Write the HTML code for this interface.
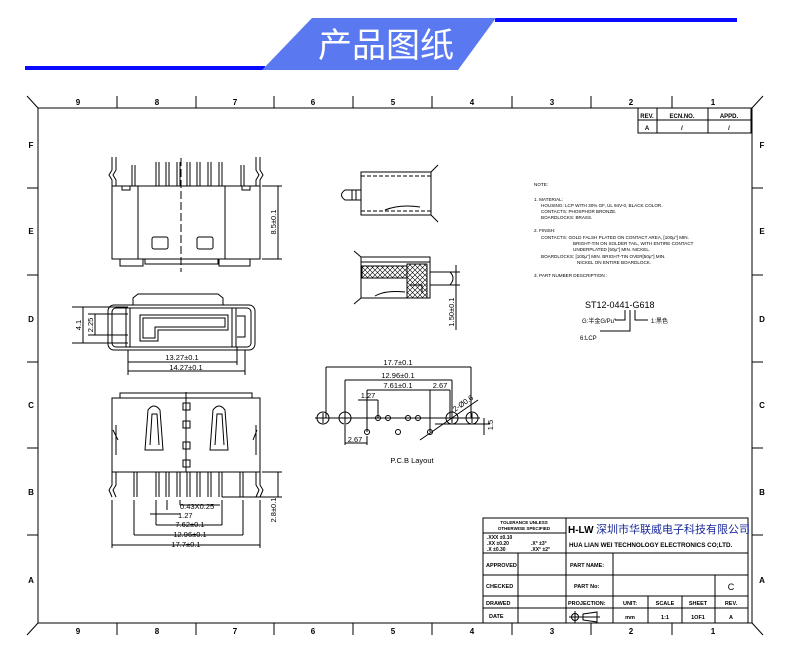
<!DOCTYPE html>
<html><head><meta charset="utf-8"><style>
html,body{margin:0;padding:0;background:#fff;width:790px;height:663px;overflow:hidden}
svg{display:block}
text{font-family:"Liberation Sans","Noto Sans CJK SC",sans-serif;fill:#000}
</style></head><body>
<svg width="790" height="663" viewBox="0 0 790 663" xmlns="http://www.w3.org/2000/svg">
<!-- header -->
<rect x="495" y="18" width="242" height="4" fill="#0a0aff"/>
<rect x="25" y="66" width="240" height="4" fill="#0a0aff"/>
<polygon points="262,70 312,18 496,18 458,70" fill="#5a78f0"/>
<text x="386" y="57" font-size="34" text-anchor="middle" style="fill:#fff" font-family="Noto Sans CJK SC,sans-serif">产品图纸</text>

<g stroke="#000" fill="none" stroke-width="1">
<!-- frame -->
<line x1="27" y1="96" x2="38" y2="108"/><line x1="763" y1="96" x2="752" y2="108"/>
<line x1="38" y1="108" x2="752" y2="108"/>
<line x1="38" y1="108" x2="38" y2="623"/><line x1="752" y1="108" x2="752" y2="623"/>
<line x1="38" y1="623" x2="752" y2="623"/>
<line x1="27" y1="635" x2="38" y2="623"/><line x1="763" y1="635" x2="752" y2="623"/>
<path d="M117 96V108M196 96V108M274 96V108M353 96V108M432 96V108M512 96V108M591 96V108M672 96V108"/>
<path d="M117 623V635M196 623V635M274 623V635M353 623V635M432 623V635M512 623V635M591 623V635M672 623V635"/>
<path d="M27 188H38M27 275H38M27 362H38M27 448H38M27 535H38M752 188H763M752 275H763M752 362H763M752 448H763M752 535H763"/>
<!-- rev table -->
<rect x="638" y="108" width="113" height="25"/>
<path d="M638 120H751M657 108V133M708 108V133"/>
<!-- title block -->
<rect x="483" y="518" width="265" height="105"/>
<path d="M483 553H748M483 575H748M483 596H748M483 608H748M566 518V623M518 553V623M613 553V623M648 596V623M682 596V623M715 575V623M483 533H566"/>

<!-- top view -->
<rect x="112" y="186" width="148" height="73"/>
<path d="M138 186V259M225 186V259"/>
<path d="M120 259V266H143V259M145 259V264H218V259M219 259V266H250V259"/>
<path d="M156 162V186M159 162V186M166 162V186M169 162V186M177 162V186M180 162V186M187 162V186M190 162V186M197 162V186M200 162V186M208 162V186M211 162V186M219 162V186M222 162V186"/>
<path d="M132 165V186M135 165V186M241 165V186M244 165V186"/>
<path d="M112 157V170L109 175L112 180V186M116 157V170L113 175L116 180V186M260 157V170L263 175L260 180V186M256 157V170L259 175L256 180V186"/>
<path d="M122 186V190H130V186M242 186V190H250V186"/>
<rect x="152" y="237" width="16" height="12" rx="2"/><rect x="197" y="237" width="16" height="12" rx="2"/>
<path d="M181 158V272" stroke-dasharray="8,3"/>
<path d="M262 186H282M262 259H282M278 186V259"/>
<!-- front view -->
<rect x="108" y="305" width="147" height="45" rx="6"/>
<rect x="112" y="308" width="139" height="39" rx="4"/>
<path d="M133 305V298L138 294H218L223 298V305"/>
<path d="M126 308V347M130 308V347M232 308V347M236 308V347"/>
<path d="M140 315H228V330H158V341H140Z"/>
<path d="M143 318H225V327H155V338H143Z"/>
<path d="M237 316H245V337H237"/>
<path d="M72 307H128M72 343H128M83 307V343M88 314H128M88 335H128M95 314V335"/>
<path d="M128 350V375M237 347V365M245 350V375M128 362H237M128 371H245"/>
<!-- bottom view -->
<path d="M120 398V393H252V398"/>
<rect x="112" y="398" width="148" height="74"/>
<path d="M145 450L148 410Q154 402 160 410L163 450ZM150 445L152 414H157L159 445"/>
<path d="M210 450L213 410Q219 402 225 410L228 450ZM215 445L217 414H222L224 445"/>
<path d="M186 392V472"/>
<rect x="183" y="403" width="7" height="7"/><rect x="183" y="421" width="7" height="7"/><rect x="183" y="442" width="7" height="7"/><rect x="183" y="460" width="7" height="7"/>
<path d="M134 472V497M137 472V497M156 472V497M159 472V497M166 472V497M169 472V497M177 472V497M180 472V497M187 472V497M190 472V497M197 472V497M200 472V497M208 472V497M211 472V497M219 472V497M222 472V497M240 472V497M243 472V497"/>
<path d="M112 472V485L109 490L112 497M116 472V485L113 490L116 497M260 472V485L263 490L260 497M256 472V485L259 490L256 497"/>
<path d="M113 430L118 440M116 425V455M256 425V455M257 430L253 440"/>
<path d="M112 500V548M260 500V548M134 500V535M243 500V535M156 500V525M222 500V525M167 500V510M180 500V505"/>
<path d="M180 505H220M150 514H180M156 525H222M134 535H243M112 545H260"/>
<path d="M262 472H282M222 497H282M278 472V497"/>
<!-- side view 1 -->
<rect x="361" y="172" width="70" height="43"/>
<path d="M361 176H431M361 211H431" stroke-dasharray="4,2"/>
<path d="M431 172L438 165M431 215L438 222"/>
<path d="M361 190H345Q338 195 345 200H361M352 190V200M356 190V200"/>
<path d="M385 210Q400 204 420 207"/>
<!-- side view 2 -->
<rect x="361" y="257" width="69" height="41"/>
<path d="M361 262H430M354 251L361 257M354 304L361 298"/>
<rect x="362" y="266" width="45" height="12" fill="url(#h)"/>
<rect x="407" y="264" width="20" height="34" fill="url(#h)"/>
<path d="M430 272H450Q456 278 450 285H430"/>
<path d="M375 296Q385 290 405 292M410 285H422V293"/>
<path d="M432 272H460M432 285H460M456 265V330"/>
<!-- PCB -->
<path d="M326 367V418M471 367V418M345 380V418M452 380V418M367 390V432M430 390V432M450 390V418M358 400H378M378 400V418"/>
<path d="M326 367H471M345 380H452M367 390H430M430 390H450M358 400H378"/>
<path d="M315 418H480"/>
<circle cx="323" cy="418" r="6"/><circle cx="345" cy="418" r="6"/><circle cx="452" cy="418" r="6"/><circle cx="472" cy="418" r="6"/>
<circle cx="378" cy="418" r="2.5"/><circle cx="388" cy="418" r="2.5"/><circle cx="408" cy="418" r="2.5"/><circle cx="418" cy="418" r="2.5"/>
<circle cx="367" cy="432" r="2.5"/><circle cx="398" cy="432" r="2.5"/><circle cx="430" cy="432" r="2.5"/>
<path d="M420 440L478 400M345 425V445M367 436V445M345 443H367M435 424H490M484 418V435"/>
<path d="M318 418H328M323 413V423M340 418H350M345 413V423M447 418H457M452 413V423M467 418H477M472 413V423"/>
<!-- part number lines -->
<path d="M625 310V320H615M630 310V331H600M635 310V320H648"/>
</g>
<defs><pattern id="h" width="5" height="5" patternUnits="userSpaceOnUse"><path d="M0 0L5 5M5 0L0 5" stroke="#000" stroke-width="0.6"/></pattern></defs>

<!-- ruler labels -->
<g font-size="8" font-weight="bold" text-anchor="middle">
<text x="78" y="105">9</text><text x="157" y="105">8</text><text x="235" y="105">7</text><text x="313" y="105">6</text><text x="393" y="105">5</text><text x="472" y="105">4</text><text x="552" y="105">3</text><text x="631" y="105">2</text><text x="713" y="105">1</text>
<text x="78" y="634">9</text><text x="157" y="634">8</text><text x="235" y="634">7</text><text x="313" y="634">6</text><text x="393" y="634">5</text><text x="472" y="634">4</text><text x="552" y="634">3</text><text x="631" y="634">2</text><text x="713" y="634">1</text>
<text x="31" y="148">F</text><text x="31" y="234">E</text><text x="31" y="322">D</text><text x="31" y="408">C</text><text x="31" y="495">B</text><text x="31" y="583">A</text>
<text x="762" y="148">F</text><text x="762" y="234">E</text><text x="762" y="322">D</text><text x="762" y="408">C</text><text x="762" y="495">B</text><text x="762" y="583">A</text>
</g>
<g font-size="6" font-weight="bold" text-anchor="middle">
<text x="647" y="118">REV.</text><text x="682" y="118">ECN.NO.</text><text x="729" y="118">APPD.</text>
<text x="647" y="130">A</text><text x="682" y="130">/</text><text x="729" y="130">/</text>
</g>
<!-- title block text -->
<g font-size="5.5" font-weight="bold">
<text x="524" y="524" text-anchor="middle" font-size="4.5">TOLERANCE UNLESS</text>
<text x="524" y="530" text-anchor="middle" font-size="4.5">OTHERWISE SPECIFIED</text>
<text x="487" y="539" font-size="5">.XXX ±0.10</text><text x="487" y="545" font-size="5">.XX  ±0.20</text><text x="487" y="551" font-size="5">.X   ±0.30</text>
<text x="531" y="545" font-size="5">.X° ±3°</text><text x="531" y="551" font-size="5">.XX° ±2°</text>
<text x="486" y="567">APPROVED</text><text x="486" y="588">CHECKED</text><text x="486" y="605">DRAWED</text><text x="489" y="618">DATE</text>
<text x="570" y="567">PART NAME:</text><text x="574" y="588">PART No:</text><text x="568" y="605">PROJECTION:</text>
<text x="630" y="605" text-anchor="middle">UNIT:</text><text x="665" y="605" text-anchor="middle">SCALE</text><text x="698" y="605" text-anchor="middle">SHEET</text><text x="731" y="605" text-anchor="middle">REV.</text>
<text x="630" y="619" text-anchor="middle">mm</text><text x="665" y="619" text-anchor="middle">1:1</text><text x="698" y="619" text-anchor="middle">1OF1</text><text x="731" y="619" text-anchor="middle">A</text>
<text x="731" y="590" text-anchor="middle" font-size="9" font-weight="normal">C</text>
<text x="569" y="547" font-size="6.3">HUA LIAN WEI TECHNOLOGY ELECTRONICS CO;LTD.</text>
</g>
<text x="568" y="533" font-size="10" font-weight="bold" fill="#000">H-LW</text>
<text x="596" y="533" font-size="11" style="fill:#1a2a9a" font-family="Noto Serif CJK SC,serif">深圳市华联威电子科技有限公司</text>
<g stroke="#000" fill="none"><circle cx="575" cy="617" r="3.5"/><path d="M569 617H600M575 611V623M583 614L597 612V622L583 620Z"/></g>
<!-- dims text -->
<g font-size="7.5">
<text x="182" y="360" text-anchor="middle">13.27±0.1</text><text x="186" y="370" text-anchor="middle">14.27±0.1</text>
<text transform="translate(276,222) rotate(-90)" text-anchor="middle">8.5±0.1</text>
<text transform="translate(81,325) rotate(-90)" text-anchor="middle">4.1</text>
<text transform="translate(93,325) rotate(-90)" text-anchor="middle">2.25</text>
<text x="180" y="509">0.43X0.25</text><text x="178" y="518">1.27</text>
<text x="190" y="527" text-anchor="middle">7.62±0.1</text><text x="190" y="537" text-anchor="middle">12.96±0.1</text><text x="186" y="547" text-anchor="middle">17.7±0.1</text>
<text transform="translate(276,510) rotate(-90)" text-anchor="middle">2.8±0.1</text>
<text transform="translate(454,312) rotate(-90)" text-anchor="middle">1.50±0.1</text>
<text x="398" y="365" text-anchor="middle">17.7±0.1</text><text x="398" y="378" text-anchor="middle">12.96±0.1</text>
<text x="398" y="388" text-anchor="middle">7.61±0.1</text><text x="440" y="388" text-anchor="middle">2.67</text>
<text x="368" y="398" text-anchor="middle">1.27</text><text x="355" y="442" text-anchor="middle">2.67</text>
<text transform="translate(455,412) rotate(-35)">2-Ø0.6</text>
<text transform="translate(493,425) rotate(-90)" text-anchor="middle">1.5</text>
<text x="412" y="463" text-anchor="middle">P.C.B Layout</text>
</g>
<!-- notes -->
<g font-size="4.6">
<text x="534" y="186">NOTE:</text>
<text x="534" y="201">1. MATERIAL:</text>
<text x="541" y="207">HOUSING: LCP WITH 30% GF, UL 94V-0, BLACK COLOR.</text>
<text x="541" y="213">CONTACTS: PHOSPHOR BRONZE.</text>
<text x="541" y="219">BOARDLOCKS: BRASS.</text>
<text x="534" y="232">2. FINISH:</text>
<text x="541" y="239">CONTACTS:  GOLD FALSH PLATED ON CONTACT AREA, [100μ"] MIN.</text>
<text x="573" y="245">BRIGHT-TIN ON SOLDER TAIL, WITH ENTIRE CONTACT</text>
<text x="573" y="251">UNDERPLATED [50μ"] MIN. NICKEL.</text>
<text x="541" y="258">BOARDLOCKS: [100μ"] MIN. BRIGHT-TIN OVER[50μ"] MIN.</text>
<text x="577" y="264">NICKEL ON ENTIRE BOARDLOCK.</text>
<text x="534" y="277">3. PART NUMBER DESCRIPTION :</text>
</g>
<text x="585" y="308" font-size="9" font-family="Liberation Serif,serif">ST12-0441-G618</text>
<text x="582" y="323" font-size="6" font-family="Liberation Serif,Noto Serif CJK SC,serif">G:半金G/Pu"</text>
<text x="651" y="323" font-size="6" font-family="Liberation Serif,Noto Serif CJK SC,serif">1:黑色</text>
<text x="580" y="340" font-size="6" font-family="Liberation Serif,serif">6:LCP</text>
</svg>
</body></html>
